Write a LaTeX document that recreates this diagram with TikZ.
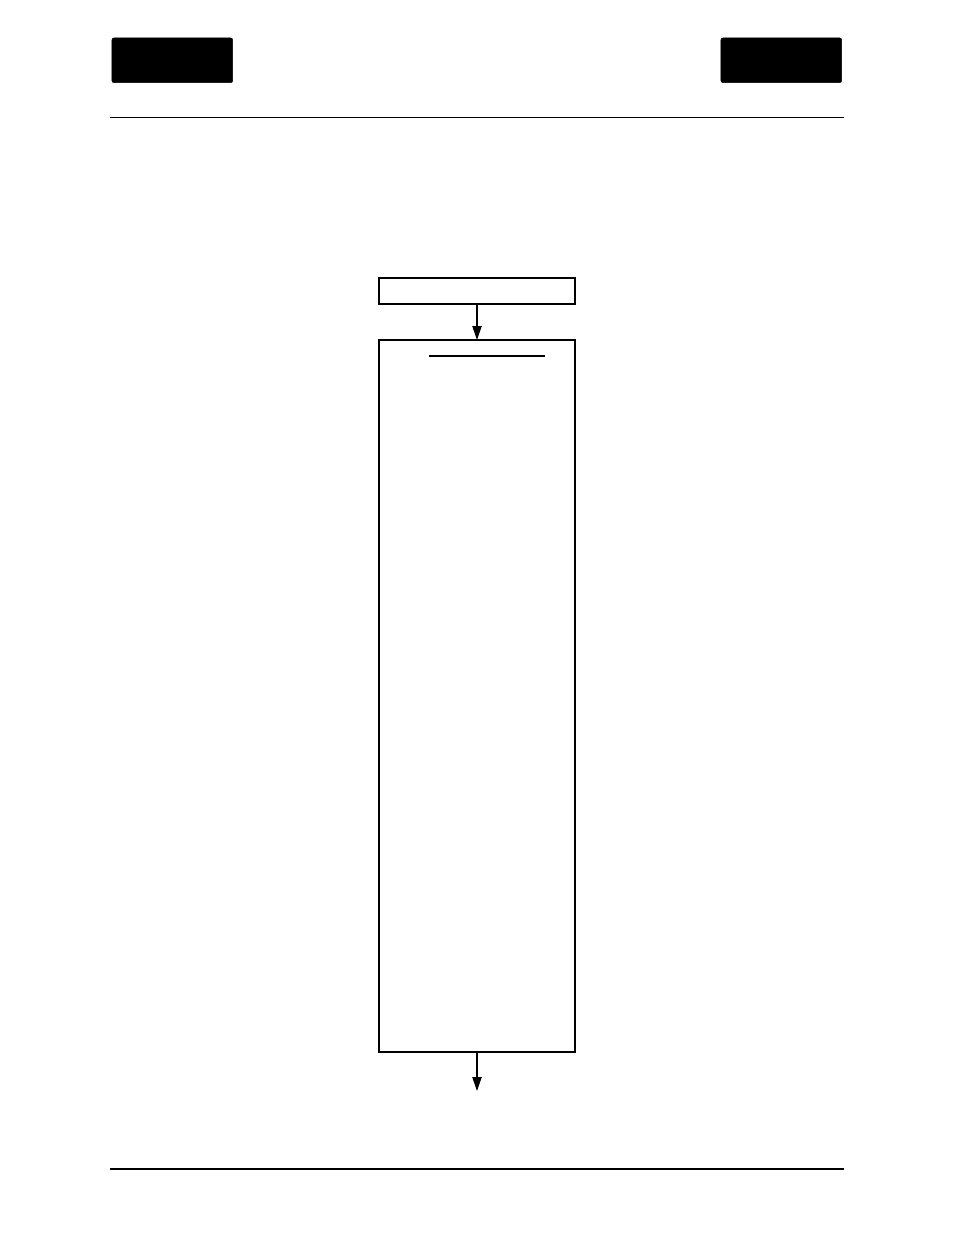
\documentclass[tikz,border=0pt]{standalone}
\usetikzlibrary{arrows.meta}
\begin{document}
\begin{tikzpicture}[x=0.75pt,y=-0.75pt,
  tab/.style={fill=black,draw=black,rounded corners=1.5pt,inner sep=0,outer sep=0,minimum width=90.5pt,minimum height=33.5pt},
  boxed/.style={draw=black,line width=1.5pt,inner sep=0,outer sep=0,fill=white},
  rule/.style={line width=0.9pt},
  flow/.style={line width=0.9pt,-{Triangle[width=7pt,length=10.5pt]}}]
\useasboundingbox[fill=white] (0,0) rectangle (954,1235);
% header tabs
\node[tab] (tabL) at (172.3,60.3) {};
\node[tab] (tabR) at (781.3,60.3) {};
% rules
\coordinate (rtl) at (110,117.5);
\coordinate (rtr) at (844,117.5);
\coordinate (rbl) at (110,1169);
\coordinate (rbr) at (844,1169);
\draw[rule] (rtl) -- (rtr);
\draw[rule] (rbl) -- (rbr);
% boxes
\node[boxed,minimum width=146.7pt,minimum height=20pt] (top) at (477,291) {};
\node[boxed,minimum width=146.7pt,minimum height=534pt] (main) at (477,696) {};
\coordinate (ulL) at (429,356);
\coordinate (ulR) at (545,356);
\draw[line width=0.9pt] (ulL) -- (ulR);
\coordinate (endpt) at (477,1091);
\draw[flow] (top.south) -- (main.north);
\draw[flow] (main.south) -- (endpt);
\end{tikzpicture}
\end{document}
